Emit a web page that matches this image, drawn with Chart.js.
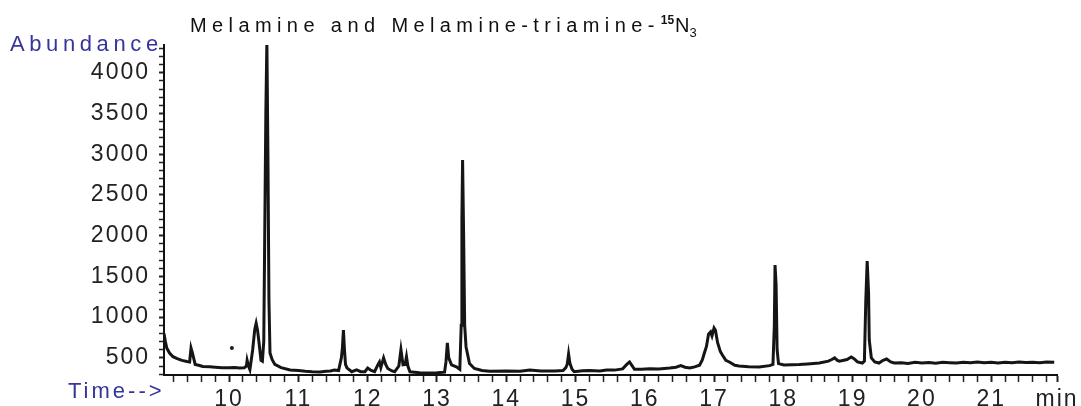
<!DOCTYPE html>
<html>
<head>
<meta charset="utf-8">
<script src="https://cdn.jsdelivr.net/npm/chart.js@4"></script>
<style>
  html, body { margin: 0; padding: 0; background: #fff; }
</style>
</head>
<body>
<canvas id="chromatogram" width="1081" height="406"></canvas>
<script>
// retention time (min) and abundance
var timeMin = [
  9.06, 9.08, 9.10, 9.14, 9.19, 9.25, 9.32, 9.39, 9.43, 9.45, 9.47, 9.51, 9.56, 9.62, 9.72, 9.80, 9.90,
  10.00, 10.08, 10.15, 10.22, 10.25, 10.26, 10.28, 10.30, 10.34, 10.37, 10.39, 10.41, 10.43, 10.46, 10.48,
  10.50, 10.53, 10.545, 10.56, 10.575, 10.59, 10.62, 10.66, 10.75, 10.88, 11.00, 11.10, 11.20, 11.31,
  11.40, 11.46, 11.52, 11.58, 11.62, 11.635, 11.65, 11.665, 11.68, 11.70, 11.77, 11.84, 11.90, 11.96,
  12.00, 12.05, 12.10, 12.15, 12.17, 12.19, 12.23, 12.26, 12.29, 12.35, 12.39, 12.45, 12.48, 12.51,
  12.54, 12.56, 12.58, 12.61, 12.75, 12.90, 13.00, 13.11, 13.13, 13.15, 13.17, 13.21, 13.28, 13.33,
  13.35, 13.36, 13.37, 13.385, 13.40, 13.42, 13.47, 13.54, 13.65, 13.76, 14.00, 14.20, 14.34, 14.50,
  14.70, 14.82, 14.86, 14.88, 14.90, 14.92, 14.95, 14.98, 15.10, 15.20, 15.35, 15.45, 15.56, 15.68,
  15.74, 15.78, 15.82, 15.85, 15.95, 16.07, 16.20, 16.36, 16.45, 16.52, 16.58, 16.65, 16.72, 16.79,
  16.83, 16.86, 16.89, 16.92, 16.95, 16.97, 17.00, 17.02, 17.05, 17.09, 17.12, 17.17, 17.22, 17.30,
  17.36, 17.50, 17.65, 17.80, 17.85, 17.87, 17.88, 17.895, 17.91, 17.93, 18.01, 18.12, 18.23, 18.35,
  18.52, 18.65, 18.70, 18.74, 18.78, 18.81, 18.92, 18.98, 19.02, 19.07, 19.14, 19.17, 19.19, 19.21,
  19.23, 19.24, 19.27, 19.32, 19.38, 19.44, 19.49, 19.55, 19.60, 19.70, 19.80, 19.90, 20.00, 20.10,
  20.20, 20.30, 20.40, 20.50, 20.60, 20.70, 20.80, 20.90, 21.00, 21.10, 21.20, 21.30, 21.40, 21.50,
  21.60, 21.70, 21.80, 21.91
];
var abundance = [
  800, 700, 620, 560, 515, 490, 470, 455, 450, 620, 560, 420, 410, 395, 390, 385, 380,
  378, 382, 376, 380, 400, 470, 400, 355, 600, 850, 925, 840, 700, 470, 460,
  700, 3500, 4380, 3000, 1200, 560, 480, 420, 380, 352, 345, 335, 330, 328,
  335, 340, 350, 345, 500, 620, 840, 600, 420, 378, 330, 352, 330, 330,
  376, 345, 330, 420, 450, 380, 500, 420, 370, 340, 330, 400, 600, 415,
  420, 515, 400, 330, 318, 315, 318, 325, 450, 683, 500, 415, 390, 360,
  900, 2200, 2928, 2000, 900, 634, 430, 370, 345, 335, 338, 336, 352, 340,
  338, 345, 380, 420, 548, 430, 360, 330, 342, 345, 340, 352, 350, 365,
  420, 450, 400, 360, 362, 366, 365, 376, 385, 405, 385, 376, 390, 410,
  474, 560, 640, 790, 818, 770, 867, 840, 690, 580, 535, 470, 450, 410,
  400, 392, 388, 405, 420, 900, 1640, 1400, 600, 430, 413, 415, 418, 425,
  437, 460, 480, 500, 470, 460, 480, 511, 490, 450, 437, 460, 1200, 1689,
  1300, 720, 499, 450, 437, 470, 486, 450, 437, 440, 432, 445, 438, 442,
  435, 445, 440, 436, 445, 440, 448, 440, 445, 438, 446, 440, 448, 442,
  446, 440, 450, 445
];
// stray dot left of the first cluster
var dotTime = [10.04];
var dotAbundance = [621];

// "min" sits at the end of the time axis
var xTickValues = [10, 11, 12, 13, 14, 15, 16, 17, 18, 19, 20, 21, 21.95];
var xTickLabels = ['10', '11', '12', '13', '14', '15', '16', '17', '18', '19', '20', '21', 'min'];
var yTickValues = [500, 1000, 1500, 2000, 2500, 3000, 3500, 4000];
var yTickLabels = ['500', '1000', '1500', '2000', '2500', '3000', '3500', '4000'];

var points = timeMin.map(function(t, i) { return {x: t, y: abundance[i]}; });
var dots = dotTime.map(function(t, i) { return {x: t, y: dotAbundance[i]}; });

function majorIndex(list, v) {
  for (var i = 0; i < list.length; i++) {
    if (Math.abs(list[i] - v) < 1e-6) return i;
  }
  return -1;
}

function spacedText(ctx, txt, x, y, font, color, spacing) {
  ctx.save();
  ctx.font = font;
  ctx.fillStyle = color;
  ctx.letterSpacing = spacing + 'px';
  ctx.textAlign = 'left';
  ctx.textBaseline = 'alphabetic';
  ctx.fillText(txt, x, y);
  var w = ctx.measureText(txt).width;
  ctx.restore();
  return x + w;
}

var textPlugin = {
  id: 'chromText',
  beforeDraw: function(chart) {
    chart.ctx.letterSpacing = '2px';
  },
  afterDraw: function(chart) {
    var ctx = chart.ctx;
    ctx.letterSpacing = '0px';
    var blue = '#35359a';
    spacedText(ctx, 'Abundance', 10, 51, '22px "Liberation Sans", Arial, sans-serif', blue, 4.6);
    spacedText(ctx, 'Time-->', 68, 398, '22px "Liberation Sans", Arial, sans-serif', blue, 3);
    // title with isotope label
    var x = spacedText(ctx, 'Melamine and Melamine-triamine-', 190, 32, '20px "Liberation Sans", Arial, sans-serif', '#111', 5.4);
    x = spacedText(ctx, '15', x + 1, 24, 'bold 12px "Liberation Sans", Arial, sans-serif', '#111', 0);
    x = spacedText(ctx, 'N', x + 1, 32, '20px "Liberation Sans", Arial, sans-serif', '#111', 0);
    spacedText(ctx, '3', x, 37, '13px "Liberation Sans", Arial, sans-serif', '#111', 0);
  }
};

var ctx = document.getElementById('chromatogram').getContext('2d');

var chart = new Chart(ctx, {
  type: 'line',
  data: {
    datasets: [
      {
        label: 'TIC',
        data: points,
        borderColor: '#151515',
        borderWidth: 3,
        pointRadius: 0,
        tension: 0,
        fill: false
      },
      {
        label: 'dot',
        data: dots,
        showLine: false,
        pointRadius: 2,
        pointBackgroundColor: '#1c1c1c',
        pointBorderWidth: 0
      }
    ]
  },
  plugins: [textPlugin],
  options: {
    responsive: false,
    animation: false,
    devicePixelRatio: 1,
    layout: { padding: { left: 0, right: 24, top: 45, bottom: 0 } },
    plugins: {
      legend: { display: false },
      title: { display: false },
      tooltip: { enabled: false }
    },
    scales: {
      x: {
        type: 'linear',
        min: 9.06,
        max: 21.95,
        afterFit: function(scale) { scale.height = 31; },
        afterBuildTicks: function(scale) {
          var ticks = [];
          for (var k = 46; k <= 109; k++) ticks.push({value: Math.round(k * 20) / 100});
          ticks.push({value: 21.95});
          scale.ticks = ticks;
        },
        border: { display: true, color: '#111', width: 2 },
        grid: {
          drawOnChartArea: false,
          drawTicks: true,
          tickLength: 7,
          tickColor: '#222',
          tickWidth: function(c) { return majorIndex(xTickValues, c.tick.value) >= 0 ? 2 : 1.5; }
        },
        ticks: {
          autoSkip: false,
          maxRotation: 0,
          padding: 4,
          color: '#222',
          font: { family: '"Liberation Sans", Arial, sans-serif', size: 23 },
          callback: function(v) {
            var i = majorIndex(xTickValues, v);
            return i >= 0 ? xTickLabels[i] : '';
          }
        }
      },
      y: {
        type: 'linear',
        min: 290,
        max: 4340,
        afterFit: function(scale) { scale.width = 164; },
        afterBuildTicks: function(scale) {
          var ticks = [];
          for (var v = 300; v <= 4300; v += 100) ticks.push({value: v});
          scale.ticks = ticks;
        },
        border: { display: true, color: '#111', width: 2 },
        grid: {
          drawOnChartArea: false,
          drawTicks: true,
          tickLength: 5,
          tickColor: '#222',
          tickWidth: function(c) { return majorIndex(yTickValues, c.tick.value) >= 0 ? 2 : 1.5; }
        },
        ticks: {
          autoSkip: false,
          padding: 9,
          color: '#222',
          font: { family: '"Liberation Sans", Arial, sans-serif', size: 23 },
          callback: function(v) {
            var i = majorIndex(yTickValues, v);
            return i >= 0 ? yTickLabels[i] : '';
          }
        }
      }
    }
  }
});
</script>
</body>
</html>
